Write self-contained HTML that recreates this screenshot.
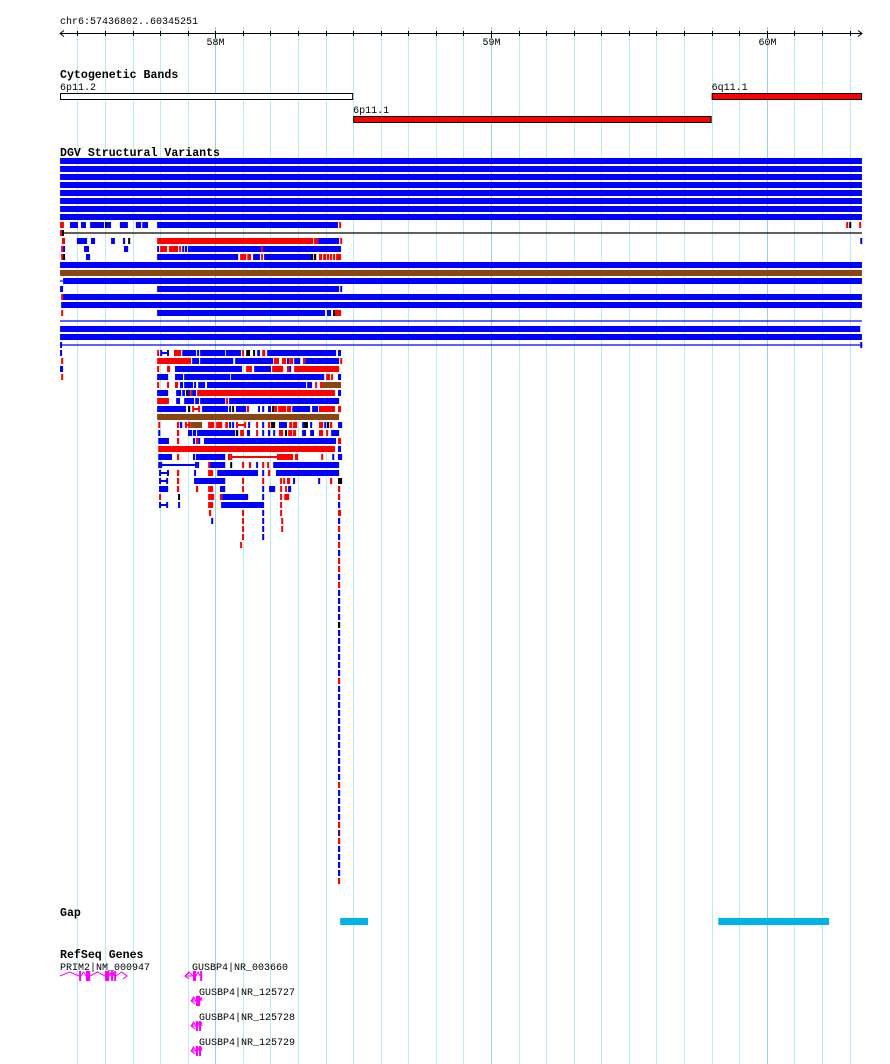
<!DOCTYPE html>
<html><head><meta charset="utf-8">
<style>
html,body{margin:0;padding:0;background:#fff;}
svg{display:block;}
text{font-family:"Liberation Mono",monospace;}
.sm{font-size:10px;fill:#000;}
.tt{font-size:11.6px;font-weight:bold;fill:#000;}
</style></head>
<body>
<svg id="chart" width="890" height="1064" viewBox="0 0 890 1064" xmlns="http://www.w3.org/2000/svg">
<rect x="0" y="0" width="890" height="1064" fill="#fff"/>
<g id="grid"></g>
<g id="ruler">
<text class="sm" x="60" y="24">chr6:57436802..60345251</text>
</g>
<text class="tt" x="60" y="78">Cytogenetic Bands</text>
<g id="cyto"></g>
<text class="tt" x="60" y="156">DGV Structural Variants</text>
<g id="dgv"></g>
<text class="tt" x="60" y="916">Gap</text>
<g id="gap"></g>
<text class="tt" x="60" y="958">RefSeq Genes</text>
<g id="genes"></g>
</svg>
<script>
// ---- data (genomic coordinates, kb) ----
const viewStart = 57436.802;
const viewEnd = 60345.251;
const rulerTickLabels = ["58M","59M","60M"];
const rulerTickKb = [58000, 59000, 60000];
const cytoNames = ["6p11.2","6p11.1","6q11.1"];
const cytoStarts = [57436.8, 58500, 59800];
const cytoEnds = [58500, 59800, 60345.3];
const cytoColors = ["#ffffff","#ff0000","#ff0000"];
const cytoLanes = [0, 1, 0];
const gapStarts = [58453, 59824];
const gapEnds = [58554, 60226];
const FULL = [[57437,60345,'b']];
const dgvRows = [
 FULL,FULL,FULL,FULL,FULL,FULL,FULL,FULL,
 [[57437,57451,'r'],[57473,57502,'b'],[57513,57531,'b'],[57546,57597,'b'],[57600,57607,'k'],[57607,57622,'b'],[57654,57683,'b'],[57712,57731,'b'],[57735,57756,'b'],[57789,58445,'b'],[58449,58456,'r'],[60288,60295,'r'],[60299,60306,'k'],[60335,60342,'r']],
 [[57437,60345,'kline'],[57437,57448,'r'],[57444,57451,'k']],
 [[57444,57455,'r'],[57498,57535,'b'],[57549,57564,'b'],[57622,57636,'b'],[57665,57673,'b'],[57684,57691,'k'],[57789,58355,'r'],[58358,58373,'r'],[58373,58449,'b'],[58453,58460,'r'],[60339,60345,'b']],
 [[57441,57448,'r'],[57448,57455,'b'],[57524,57542,'b'],[57669,57684,'b'],[57789,57796,'b'],[57800,57825,'r'],[57832,57865,'r'],[57869,57876,'r'],[57880,57887,'b'],[57890,57898,'b'],[57901,58456,'b'],[58166,58173,'r']],
 [[57441,57448,'r'],[57448,57455,'k'],[57531,57546,'b'],[57789,58083,'b'],[58090,58112,'r'],[58116,58130,'r'],[58137,58162,'b'],[58166,58173,'r'],[58177,58347,'b'],[58347,58355,'k'],[58358,58366,'k'],[58376,58387,'r'],[58391,58402,'r'],[58405,58413,'r'],[58416,58424,'r'],[58427,58434,'r'],[58438,58456,'r']],
 FULL,
 [[57437,60345,'n']],
 [[57437,57448,'bline'],[57448,60345,'b']],
 [[57437,57448,'b'],[57789,58449,'b'],[58453,58460,'b']],
 [[57441,57448,'r'],[57448,60345,'b']],
 [[57441,60345,'b']],
 [[57441,57448,'r'],[57789,58398,'b'],[58405,58420,'b'],[58427,58434,'k'],[58434,58456,'r']],
 [[57437,60345,'bline']],
 [[57437,60339,'b']],
 FULL,
 [[57437,60345,'bline'],[57437,57444,'b'],[60339,60345,'b']],
 [[57437,57444,'b'],[57789,57796,'r'],[57800,57832,'bL'],[57850,57876,'r'],[57880,57930,'b'],[57934,57941,'b'],[57945,58036,'b'],[58039,58093,'b'],[58097,58104,'r'],[58112,58126,'k'],[58137,58144,'k'],[58152,58162,'b'],[58170,58181,'r'],[58188,58438,'b'],[58445,58456,'b']],
 [[57441,57448,'r'],[57789,57912,'r'],[57916,57941,'b'],[57945,58065,'b'],[58072,58210,'b'],[58213,58231,'r'],[58242,58257,'r'],[58260,58264,'b'],[58268,58282,'r'],[58286,58308,'b'],[58318,58326,'r'],[58326,58449,'b'],[58453,58460,'r']],
 [[57437,57448,'b'],[57789,57796,'r'],[57825,57836,'r'],[57854,58097,'b'],[58112,58133,'r'],[58141,58202,'b'],[58206,58246,'r'],[58260,58268,'r'],[58268,58275,'b'],[58286,58449,'r']],
 [[57441,57448,'r'],[57789,57829,'b'],[57854,57883,'b'],[57887,58054,'b'],[58057,58395,'b'],[58402,58416,'r'],[58420,58427,'r'],[58445,58456,'b']],
 [[57789,57796,'r'],[57825,57832,'r'],[57854,57865,'r'],[57872,57883,'b'],[57887,57919,'b'],[57923,57930,'b'],[57938,57963,'b'],[57970,58329,'b'],[58333,58351,'b'],[58362,58369,'r'],[58380,58387,'r'],[58387,58456,'n']],
 [[57789,57829,'b'],[57858,57876,'b'],[57880,57890,'b'],[57894,57901,'k'],[57901,57909,'b'],[57909,57916,'r'],[57916,57930,'b'],[57934,58434,'r'],[58445,58456,'b']],
 [[57789,57832,'r'],[57858,57872,'b'],[57887,57923,'b'],[57927,57941,'b'],[57945,58036,'b'],[58039,58046,'r'],[58050,58449,'b']],
 [[57789,57894,'b'],[57901,57909,'k'],[57916,57945,'rL'],[57952,58046,'b'],[58050,58057,'b'],[58061,58068,'k'],[58075,58112,'b'],[58115,58122,'r'],[58155,58162,'b'],[58170,58177,'b'],[58191,58202,'b'],[58206,58213,'k'],[58213,58224,'r'],[58228,58257,'r'],[58260,58275,'r'],[58279,58344,'b'],[58351,58373,'b'],[58376,58434,'r'],[58445,58456,'r']],
 [[57789,58449,'n']],
 [[57793,57800,'r'],[57861,57869,'r'],[57872,57880,'b'],[57890,57909,'rL'],[57909,57952,'n'],[57974,57996,'r'],[58003,58025,'r'],[58036,58046,'r'],[58050,58057,'b'],[58061,58068,'b'],[58075,58112,'rL'],[58119,58126,'b'],[58148,58155,'r'],[58170,58177,'b'],[58191,58199,'r'],[58202,58217,'k'],[58231,58260,'b'],[58268,58279,'r'],[58282,58297,'r'],[58315,58322,'b'],[58322,58336,'k'],[58344,58351,'b'],[58376,58391,'r'],[58395,58402,'b'],[58405,58413,'k'],[58416,58424,'r'],[58445,58460,'b']],
 [[57793,57800,'b'],[57861,57869,'r'],[57901,57916,'b'],[57919,57930,'b'],[57934,58072,'b'],[58075,58083,'k'],[58090,58104,'r'],[58115,58126,'b'],[58148,58155,'r'],[58170,58177,'b'],[58191,58199,'b'],[58210,58217,'b'],[58231,58246,'r'],[58253,58260,'k'],[58264,58279,'r'],[58282,58293,'r'],[58315,58329,'b'],[58344,58358,'b'],[58376,58391,'r'],[58402,58409,'r'],[58420,58449,'b']],
 [[57793,57832,'b'],[57861,57869,'r'],[57919,57927,'b'],[57930,57938,'r'],[57938,57945,'b'],[57959,58438,'b'],[58445,58456,'r']],
 [[57793,58434,'r'],[58445,58456,'b']],
 [[57793,57843,'b'],[57861,57869,'r'],[57919,57927,'b'],[57930,58036,'b'],[58046,58054,'r'],[58054,58231,'rL'],[58231,58282,'r'],[58289,58300,'r'],[58384,58391,'r'],[58424,58431,'b'],[58445,58460,'b']],
 [[57793,57800,'b'],[57800,57934,'bL'],[57934,57938,'b'],[57974,57981,'r'],[57981,58036,'b'],[58054,58061,'k'],[58097,58104,'r'],[58122,58130,'r'],[58148,58155,'b'],[58170,58177,'r'],[58188,58195,'r'],[58210,58449,'b']],
 [[57796,57832,'bL'],[57861,57869,'r'],[57923,57930,'b'],[57974,57992,'r'],[58007,58155,'b'],[58170,58177,'b'],[58191,58199,'r'],[58220,58449,'b']],
 [[57796,57829,'bL'],[57861,57869,'r'],[57923,58036,'b'],[58097,58104,'r'],[58170,58177,'r'],[58235,58242,'r'],[58246,58253,'r'],[58260,58271,'r'],[58282,58289,'b'],[58373,58380,'b'],[58416,58424,'r'],[58445,58460,'k']],
 [[57796,57829,'b'],[57861,57869,'r'],[57930,57938,'r'],[57974,57992,'r'],[58017,58036,'b'],[58097,58104,'r'],[58170,58177,'b'],[58195,58217,'b'],[58235,58242,'r'],[58253,58260,'r'],[58264,58275,'b'],[58445,58453,'r']],
 [[57796,57803,'r'],[57865,57872,'k'],[57974,57996,'r'],[58017,58025,'r'],[58025,58119,'b'],[58170,58177,'b'],[58235,58242,'r'],[58250,58268,'r'],[58445,58453,'r']],
 [[57796,57829,'bL'],[57865,57872,'b'],[57974,57992,'r'],[58021,58177,'b'],[58235,58242,'r'],[58445,58453,'b']],
 [[57977,57985,'r'],[58097,58104,'r'],[58170,58177,'b'],[58235,58242,'r'],[58445,58456,'r']],
 [[57985,57992,'b'],[58097,58104,'r'],[58170,58177,'b'],[58239,58246,'r'],[58445,58453,'b']],
 [[58097,58104,'r'],[58170,58177,'b'],[58239,58246,'r'],[58445,58453,'r']],
 [[58097,58104,'r'],[58170,58177,'b'],[58445,58453,'b']],
 [[58090,58097,'r'],[58445,58453,'r']]
];
const columnStart = 58445;
const columnEnd = 58453;
const columnColors = ['b','r','r','b','r','b','b','b','b','k','b','b','b','b','b','b','r','b','b','b','b','b','b','b','b','b','b','b','b','r','b','b','b','b','r','p','r','b','b','b','b','r'];
const geneNames = ["PRIM2|NM_000947","GUSBP4|NR_003660","GUSBP4|NR_125727","GUSBP4|NR_125728","GUSBP4|NR_125729"];
const geneStarts = [57437, 57890, 57912, 57912, 57912];
const geneEnds = [57680, 57952, 57952, 57952, 57952];
const geneStrands = ['+','-','-','-','-'];
const geneExons = [
 [[57506,57513],[57531,57546],[57600,57615],[57622,57626],[57633,57640]],
 [[57919,57930],[57945,57952]],
 [[57930,57945]],
 [[57930,57934],[57941,57945]],
 [[57930,57934],[57941,57945]]
];
// ---- scales ----
const X0 = 60, X1 = 862;
function xs(kb){ return X0 + (kb - viewStart) * (X1 - X0) / (viewEnd - viewStart); }
function rowY(i){ return 158 + 8 * i; }
const COL = {b:'#0000ff', r:'#ff0000', k:'#000000', n:'#8b4513', p:'#5a0080'};
const NS = 'http://www.w3.org/2000/svg';
function mk(tag, attrs, parent){ const e=document.createElementNS(NS,tag); for(const k in attrs) e.setAttribute(k,attrs[k]); parent.appendChild(e); return e; }

// grid
const grid = document.getElementById('grid');
for (let kb = 57500; kb <= 60300; kb += 100) {
  const x = Math.round(xs(kb)) + 0.5;
  const ln = mk('line', {x1:x, x2:x, y1:27, y2:1064, stroke: (kb % 1000 === 0) ? '#96d2e6' : '#b8ecf2', 'stroke-width':1}, grid);
  
  
}
// ruler
const ruler = document.getElementById('ruler');
const axisLine = mk('line', {x1:X0, x2:X1, y1:33.5, y2:33.5, stroke:'#000'}, ruler);


const arrows = mk('path', {d:`M${X0+4} 30.5 L${X0} 33.5 L${X0+4} 36.5 M${X1-4} 30.5 L${X1} 33.5 L${X1-4} 36.5`, stroke:'#000', fill:'none'}, ruler);


for (let kb = 57500; kb <= 60300; kb += 100) {
  const x = Math.round(xs(kb)) + 0.5;
  const t = mk('line', {x1:x, x2:x, y1:31, y2:36, stroke:'#000'}, ruler);
  
  
}
rulerTickKb.forEach((kb, i) => {
  const x = Math.round(xs(kb)) + 0.5;
  const t = mk('line', {x1:x, x2:x, y1:33, y2:38, stroke:'#000'}, ruler);
  
  
  const lb = mk('text', {x:x, y:45, 'text-anchor':'middle', class:'sm'}, ruler);
  lb.textContent = rulerTickLabels[i];
  
  
});
// cytobands
const cyto = document.getElementById('cyto');
cytoNames.forEach((nm, i) => {
  const y = 93 + cytoLanes[i] * 23;
  const x1 = xs(cytoStarts[i]), x2 = xs(cytoEnds[i]);
  const r = mk('rect', {x:x1+0.5, y:y+0.5, width:x2-x1-1, height:6, fill:cytoColors[i], stroke:'#000'}, cyto);
  
  
  const t = mk('text', {x:x1, y:y-3, class:'sm'}, cyto);
  t.textContent = nm;
  
  
});
// DGV
const dgv = document.getElementById('dgv');
function drawFeat(f, y, parent){
  const x1 = xs(f[0]), x2 = xs(f[1]);
  const t = f[2];
  if (t.endsWith('line')) {
    const c = COL[t[0]];
    const l = mk('line', {x1:x1, x2:x2, y1:y+3, y2:y+3, stroke:c, 'stroke-width':1.2}, parent);
    
    
  } else if (t.endsWith('L')) {
    const c = COL[t[0]];
    const l = mk('path', {d:`M${x1+1} ${y} V${y+6} M${x1+1} ${y+3} H${x2-1} M${x2-1} ${y} V${y+6}`, stroke:c, 'stroke-width':2, fill:'none'}, parent);
    
    
  } else {
    const r = mk('rect', {x:x1, y:y, width:Math.max(2, x2-x1), height:6, fill:COL[t]}, parent);
    
    
  }
}
dgvRows.forEach((row, i) => { row.forEach(f => drawFeat(f, rowY(i), dgv)); });
columnColors.forEach((c, j) => { drawFeat([columnStart, columnEnd, c], rowY(dgvRows.length + j), dgv); });
// gap
const gap = document.getElementById('gap');
gapStarts.forEach((s, i) => {
  const r = mk('rect', {x:xs(s), y:918, width:xs(gapEnds[i]) - xs(s), height:7, fill:'#00b4e6'}, gap);
  
  
});
// genes
const genes = document.getElementById('genes');
const geneLabelX = [60, 192, 199, 199, 199];
geneNames.forEach((nm, i) => {
  const y = 976 + (i === 0 ? 0 : (i - 1) * 25);
  const ly = i === 0 ? 970 : (i === 1 ? 970 : 995 + (i - 2) * 25);
  const t = mk('text', {x:geneLabelX[i], y:ly, class:'sm'}, genes);
  t.textContent = nm;
  
  
  const g = mk('g', {stroke:'#ff00ff', fill:'#ff00ff'}, genes);
  
  
  const ex = geneExons[i];
  const gs = xs(geneStarts[i]), ge = xs(geneEnds[i]);
  // introns as chevrons
  let prev = gs;
  const pts = ex.map(e => [xs(e[0]), xs(e[1])]);
  pts.concat([[ge, ge]]).forEach(p => {
    if (p[0] > prev + 1) {
      const m = (prev + p[0]) / 2;
      mk('path', {d:`M${prev} ${y} L${m} ${y-4} L${p[0]} ${y}`, fill:'none', 'stroke-width':1}, g);
    }
    prev = p[1];
  });
  pts.forEach(p => mk('rect', {x:p[0], y:y-5, width:Math.max(2, p[1]-p[0]), height:10, stroke:'none'}, g));
  if (geneStrands[i] === '+') {
    mk('path', {d:`M${ge-4} ${y-3} L${ge} ${y} L${ge-4} ${y+3}`, fill:'none'}, g);
  } else {
    mk('path', {d:`M${gs} ${y} H${pts[0][0]} M${gs+4} ${y-3} L${gs} ${y} L${gs+4} ${y+3}`, fill:'none'}, g);
  }
});
</script>
</body></html>
